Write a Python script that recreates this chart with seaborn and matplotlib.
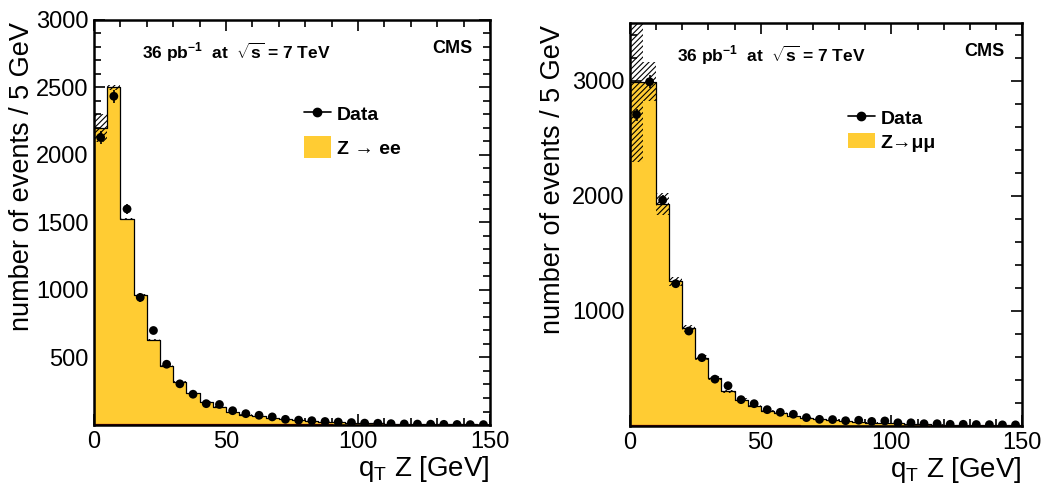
import numpy as np
import pandas as pd
import matplotlib
matplotlib.use("Agg")
import matplotlib.pyplot as plt
import seaborn as sns
from matplotlib.lines import Line2D
from matplotlib.patches import Patch
from matplotlib.ticker import MultipleLocator

# bins of 5 GeV from 0 to 150
edges = np.arange(0, 155, 5)
centers = edges[:-1] + 2.5

# Z -> ee panel
mc_ee = [2200, 2500, 1525, 960, 630, 440, 322, 236, 173, 136, 96, 76, 63, 52, 44,
         36, 30, 25, 21, 17, 14, 12, 10, 8, 7, 6, 5, 4, 4, 3]
err_ee = [106, 20, 10, 9, 8, 6, 5, 4, 3, 3, 2, 2, 2, 2, 1,
          1, 1, 1, 1, 1, 1, 1, 1, 1, 1, 1, 1, 1, 1, 1]
data_ee = [2130, 2435, 1600, 945, 700, 450, 305, 228, 158, 152, 106, 84, 72, 60, 42,
           36, 32, 26, 22, 18, 14, 13, 10, 8, 7, 6, 5, 4, 3, 3]
bkg_ee = [9, 9, 8, 8, 7, 7, 6, 6, 6, 5, 5, 5, 5, 4, 4,
          4, 4, 4, 3, 3, 3, 3, 3, 3, 3, 2, 2, 2, 2, 2]

# Z -> mumu panel
mc_mm = [2990, 2990, 1930, 1256, 848, 594, 416, 300, 229, 177, 134, 114, 91, 72, 60,
         50, 42, 36, 30, 26, 22, 18, 15, 13, 11, 9, 8, 7, 6, 5]
err_mm = [700, 170, 95, 42, 30, 20, 15, 13, 10, 8, 6, 5, 4, 4, 3,
          3, 2, 2, 2, 2, 2, 1, 1, 1, 1, 1, 1, 1, 1, 1]
data_mm = [2705, 2990, 1962, 1236, 825, 594, 407, 350, 229, 194, 142, 119, 102, 73, 58,
           56, 46, 50, 40, 44, 28, 28, 20, 20, 15, 15, 13, 12, 10, 10]
bkg_mm = [9, 9, 8, 8, 7, 7, 6, 6, 6, 5, 5, 5, 5, 4, 4,
          4, 4, 4, 3, 3, 3, 3, 3, 3, 3, 2, 2, 2, 2, 2]

YELLOW = "#ffcc33"

sns.set_theme(style="ticks")
plt.rcParams['font.family'] = ['Liberation Sans', 'DejaVu Sans']
plt.rcParams['mathtext.fontset'] = 'custom'
plt.rcParams['mathtext.rm'] = 'Liberation Sans'
plt.rcParams['mathtext.bf'] = 'Liberation Sans:bold'
plt.rcParams['mathtext.it'] = 'Liberation Sans:italic'
plt.rcParams['hatch.linewidth'] = 0.8
for key in ['text.color', 'axes.labelcolor', 'xtick.color', 'ytick.color',
            'axes.edgecolor']:
    plt.rcParams[key] = 'black'


def draw_panel(ax, mc, err, data, bkg, ymax, ymajor, yminor, label, leg_pos,
               leg_space, box_h, ylab_x):
    df = pd.DataFrame({"qt": centers, "mc": mc, "err": err, "data": data, "bkg": bkg})
    df = df.astype(float)

    sns.histplot(data=df, x="qt", weights="mc", binwidth=5, binrange=(0, 150),
                 element="step", fill=True, color=YELLOW, alpha=1, edgecolor="black",
                 linewidth=0.9, ax=ax)
    sns.histplot(data=df, x="qt", weights="bkg", binwidth=5, binrange=(0, 150),
                 element="step", fill=True, color="#cc0000", alpha=1,
                 edgecolor="#990000", linewidth=0.9, ax=ax)
    # uncertainty band
    ax.bar(df["qt"], 2 * df["err"], bottom=df["mc"] - df["err"], width=5, fill=False,
           hatch="//////", edgecolor="black", linewidth=0)
    ax.errorbar(df["qt"], df["data"], yerr=np.sqrt(df["data"]), fmt="none",
                ecolor="black", elinewidth=1.2, capsize=0)
    sns.scatterplot(data=df, x="qt", y="data", color="black", s=40, edgecolor="none",
                    ax=ax, zorder=5)

    ax.set_xlim(0, 150)
    ax.set_ylim(0, ymax)
    ax.xaxis.set_major_locator(MultipleLocator(50))
    ax.xaxis.set_minor_locator(MultipleLocator(10))
    ax.yaxis.set_major_locator(MultipleLocator(ymajor))
    ax.yaxis.set_minor_locator(MultipleLocator(yminor))
    ax.tick_params(which="both", direction="in", top=True, right=True, labelsize=17,
                   width=1.2, pad=4)
    ax.tick_params(which="major", length=8)
    ax.tick_params(which="minor", length=5)
    ax.set_yticks([t for t in ax.get_yticks() if 0 < t <= ymax])
    ax.set_ylim(0, ymax)
    for s in ax.spines.values():
        s.set_linewidth(1.8)
        s.set_color("black")
    ax.set_xlabel(r"q$_\mathrm{T}$ Z [GeV]", fontsize=20, loc="right", labelpad=1)
    ax.set_ylabel("number of events / 5 GeV", fontsize=19.5, loc="top")
    ax.yaxis.set_label_coords(ylab_x, 0.995)

    ax.text(0.12, 0.92, r"36 pb$^{\mathbf{-1}}$  at  $\sqrt{\mathbf{s}}$ = 7 TeV",
            transform=ax.transAxes, fontsize=12.5, fontweight="bold", va="center")
    ax.text(0.955, 0.93, "CMS", transform=ax.transAxes, fontsize=13,
            fontweight="bold", ha="right", va="center")

    handles = [Line2D([], [], color="black", marker="o", markersize=6, linewidth=1.2),
               Patch(facecolor=YELLOW, edgecolor="none")]
    ax.legend(handles, ["Data", label], loc="upper left", bbox_to_anchor=leg_pos,
              frameon=False, prop={"weight": "bold", "size": 14}, handlelength=1.4,
              handleheight=box_h, handletextpad=0.3, labelspacing=leg_space,
              borderaxespad=0)


fig = plt.figure(figsize=(10.46, 4.84), dpi=100)
ax1 = fig.add_axes([0.0899, 0.1219, 0.3786, 0.8368])
ax2 = fig.add_axes([0.6023, 0.1198, 0.3748, 0.8326])

draw_panel(ax1, mc_ee, err_ee, data_ee, bkg_ee, 3000, 500, 100,
           "Z \u2192 ee", (0.51, 0.815), 0.55, 1.4, -0.148)
draw_panel(ax2, mc_mm, err_mm, data_mm, bkg_mm, 3500, 1000, 200,
           "Z\u2192\u03bc\u03bc", (0.535, 0.805), 0.3, 0.8, -0.162)

fig.savefig("out.png", dpi=100)
